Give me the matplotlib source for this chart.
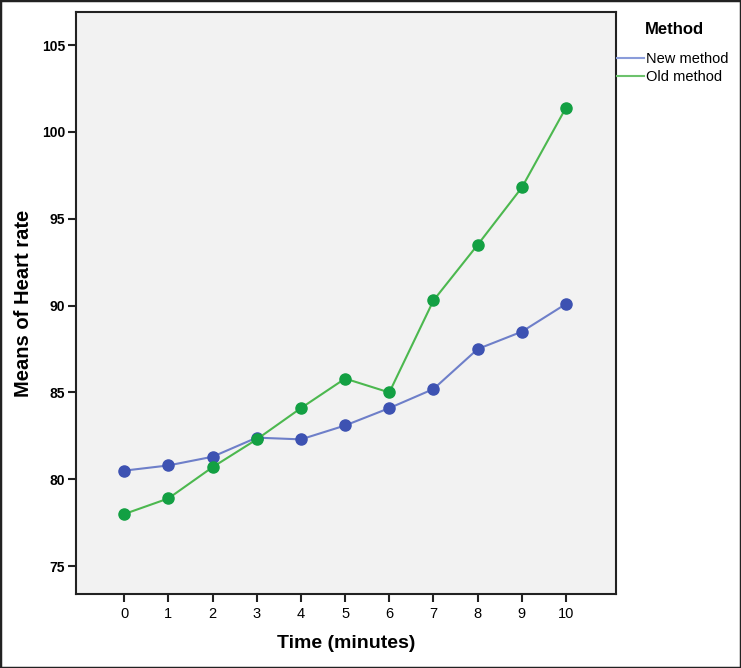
import matplotlib
matplotlib.use("Agg")
import matplotlib.pyplot as plt
from matplotlib.lines import Line2D
from matplotlib.patches import Rectangle

time_minutes = [0, 1, 2, 3, 4, 5, 6, 7, 8, 9, 10]
new_method = [80.5, 80.8, 81.3, 82.4, 82.3, 83.1, 84.1, 85.2, 87.5, 88.5, 90.1]
old_method = [78.0, 78.9, 80.7, 82.3, 84.1, 85.8, 85.0, 90.3, 93.5, 96.8, 101.4]
y_ticks = [75, 80, 85, 90, 95, 100, 105]

plt.rcParams['font.family'] = ['Liberation Sans', 'DejaVu Sans']

W, H = 741, 668
fig = plt.figure(figsize=(W/100, H/100), dpi=100)
ax = fig.add_axes([76/W, 1 - 594/H, (616-76)/W, (594-12)/H])
ax.set_facecolor('#F2F2F2')

ax.plot(time_minutes, new_method, color='#6E7FC9', lw=1.5, marker='o',
        markersize=8, markerfacecolor='#3D52B2', markeredgecolor='#3D52B2', zorder=3)
ax.plot(time_minutes, old_method, color='#4CB84F', lw=1.5, marker='o',
        markersize=8, markerfacecolor='#13A043', markeredgecolor='#13A043', zorder=3)

ax.set_xlim(-1.09, 11.13)
ax.set_ylim(73.4, 106.9)
ax.set_xticks(time_minutes)
ax.set_xticklabels([str(t) for t in time_minutes], fontsize=10.5)
ax.set_yticks(y_ticks)
ax.set_yticklabels([str(v) for v in y_ticks], fontsize=10, fontweight='bold')
ax.tick_params(direction='out', length=6, width=1.5, color='#222222')
ax.tick_params(axis='x', pad=3.5)
ax.tick_params(axis='y', pad=2)
for s in ax.spines.values():
    s.set_linewidth(1.5)
    s.set_color('#222222')

ax.set_xlabel('Time (minutes)', fontsize=14, fontweight='bold')
ax.set_ylabel('Means of Heart rate', fontsize=14.5, fontweight='bold')
ax.xaxis.set_label_coords(0.5, -(635-594)/(594-12))
ax.yaxis.set_label_coords(-(76-33)/(616-76), 0.5)

fig.text(674/W, 1 - 30/H, 'Method', fontsize=12, fontweight='bold',
         ha='center', va='center')
handles = [Line2D([0], [0], color='#8A9CDA', lw=1.5),
           Line2D([0], [0], color='#6CC26C', lw=1.5)]
leg = fig.legend(handles, ['New method', 'Old method'],
                 loc='upper left', bbox_to_anchor=(617/W, 1 - 52/H),
                 frameon=False, fontsize=10.5, handlelength=1.85, handletextpad=0.15,
                 labelspacing=0.28, borderaxespad=0, borderpad=0)

fig.patches.append(Rectangle((0, 0), 1, 1, transform=fig.transFigure, fill=False,
                             edgecolor='#222222', lw=2.5))

fig.savefig('out.png', dpi=100)
